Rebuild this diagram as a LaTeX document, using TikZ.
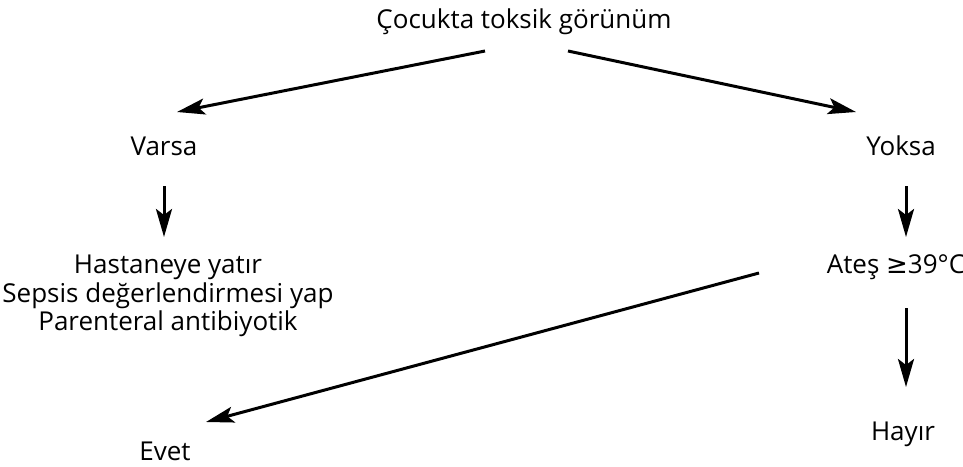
\documentclass[tikz,border=0pt]{standalone}
\usepackage{fontspec}
\setmainfont{Open Sans}
\newfontfamily\symfont{DejaVu Sans}
\usetikzlibrary{arrows.meta}

\begin{document}
\begin{tikzpicture}[x=0.5pt,y=-0.5pt]
\tikzset{etiqueta/.style={inner sep=0pt,anchor=base,font=\fontsize{13}{14.25}\selectfont},
  flecha/.style={line width=1.5pt,-{Stealth[length=14pt,width=8pt,inset=3pt]}}}
\useasboundingbox (0,0) rectangle (963,466);
% Nodos
\node [etiqueta] (toksik) at (524,28) {Çocukta toksik görünüm};
\node [etiqueta] (varsa) at (164,155) {Varsa};
\node [etiqueta] (yoksa) at (901,155) {Yoksa};
\node [etiqueta, anchor=north, align=center] (yatir) at (168,255) {Hastaneye yatır\\Sepsis değerlendirmesi yap\\Parenteral antibiyotik};
\node [etiqueta] (ates) at (896,273) {Ateş {\symfont ≥}39°C};
\node [etiqueta] (evet) at (165,460) {Evet};
\node [etiqueta] (hayir) at (903,440) {Hayır};
% Flechas
\draw [flecha] ([shift={(-39,23)}]toksik.base) -- ([shift={(13,-43)}]varsa.base);
\draw [flecha] ([shift={(44,23)}]toksik.base) -- ([shift={(-45,-43)}]yoksa.base);
\draw [flecha] ([shift={(0,31)}]varsa.base) -- ([shift={(-4,-18)}]yatir.north);
\draw [flecha] ([shift={(5,31)}]yoksa.base) -- ([shift={(10,-36)}]ates.base);
\draw [flecha] ([shift={(10,35)}]ates.base) -- ([shift={(3,-53)}]hayir.base);
\draw [flecha] ([shift={(-137,0)}]ates.base) -- ([shift={(41,-38)}]evet.base);
\end{tikzpicture}
\end{document}
